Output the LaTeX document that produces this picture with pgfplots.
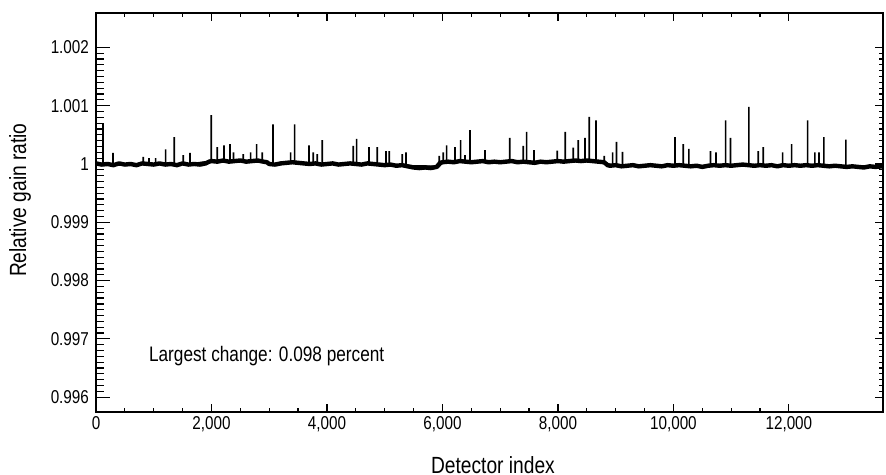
\documentclass[border=0pt]{standalone}
\usepackage{fontspec}
\setmainfont[FakeStretch=0.82]{Liberation Sans}
\usepackage{pgfplots}
\pgfplotsset{compat=1.18}

% Smooth part of the ratio curve (detector index, ratio)
\pgfplotstableread{
d ratio
0 1.00001
100 0.99999
200 1.00000
300 0.99998
400 1.00001
500 0.99999
600 1.00000
700 0.99998
800 1.00001
900 1.00000
1000 0.99999
1100 1.00001
1200 0.99999
1300 1.00000
1400 0.99998
1500 1.00001
1600 0.99999
1700 1.00000
1800 0.99999
1900 1.00001
1960 1.00004
2000 1.00005
2100 1.00004
2200 1.00006
2300 1.00004
2400 1.00005
2500 1.00006
2600 1.00004
2700 1.00005
2800 1.00006
2900 1.00004
2960 1.00003
3000 1.00000
3100 0.99999
3200 1.00001
3300 1.00002
3400 1.00003
3500 1.00002
3600 1.00001
3700 1.00000
3800 1.00001
3900 0.99999
4000 1.00000
4100 1.00001
4200 0.99999
4300 1.00000
4400 1.00001
4500 1.00000
4600 0.99999
4700 1.00001
4800 1.00000
4900 0.99999
5000 0.99998
5100 0.99999
5200 0.99997
5300 0.99998
5400 0.99996
5500 0.99994
5600 0.99993
5700 0.99994
5800 0.99993
5900 0.99995
5960 1.00002
6000 1.00003
6100 1.00004
6200 1.00003
6300 1.00005
6400 1.00004
6500 1.00003
6600 1.00004
6700 1.00005
6800 1.00003
6900 1.00004
7000 1.00003
7100 1.00004
7200 1.00005
7300 1.00003
7400 1.00004
7500 1.00003
7600 1.00002
7700 1.00004
7800 1.00003
7900 1.00004
8000 1.00005
8100 1.00004
8200 1.00005
8300 1.00006
8400 1.00005
8500 1.00006
8600 1.00005
8700 1.00004
8800 1.00003
8860 0.99998
8900 0.99997
9000 0.99998
9100 0.99996
9200 0.99997
9300 0.99998
9400 0.99996
9500 0.99997
9600 0.99998
9700 0.99997
9800 0.99996
9900 0.99998
10000 0.99997
10100 0.99998
10200 0.99997
10300 0.99996
10400 0.99997
10500 0.99995
10600 0.99997
10700 0.99998
10800 0.99997
10900 0.99998
11000 0.99997
11100 0.99998
11200 0.99999
11300 0.99998
11400 0.99997
11500 0.99998
11600 0.99997
11700 0.99998
11800 0.99996
11900 0.99998
12000 0.99997
12100 0.99998
12200 0.99997
12300 0.99998
12400 0.99997
12500 0.99998
12600 0.99997
12700 0.99996
12800 0.99997
12900 0.99996
13000 0.99995
13100 0.99996
13200 0.99995
13300 0.99994
13400 0.99996
13500 0.99995
13630 0.99996
}\baseline

% Isolated detectors with large ratios: index, local level, peak
\pgfplotstableread{
d ratio
121 1.00000
121 1.00069
121 1.00000
294 0.99998
294 1.00019
294 0.99998
820 1.00000
820 1.00012
820 1.00000
918 1.00000
918 1.00010
918 1.00000
1033 1.00000
1033 1.00010
1033 1.00000
1206 1.00000
1206 1.00025
1206 1.00000
1356 1.00000
1356 1.00046
1356 1.00000
1512 1.00000
1512 1.00015
1512 1.00000
1628 1.00000
1628 1.00019
1628 1.00000
1997 1.00005
1997 1.00084
1997 1.00005
2100 1.00005
2100 1.00029
2100 1.00005
2216 1.00005
2216 1.00032
2216 1.00005
2320 1.00005
2320 1.00034
2320 1.00005
2380 1.00005
2380 1.00020
2380 1.00005
2551 1.00005
2551 1.00017
2551 1.00005
2678 1.00005
2678 1.00020
2678 1.00005
2782 1.00005
2782 1.00034
2782 1.00005
2880 1.00005
2880 1.00020
2880 1.00005
3065 1.00000
3065 1.00068
3065 1.00000
3371 1.00002
3371 1.00020
3371 1.00002
3440 1.00002
3440 1.00068
3440 1.00002
3688 1.00000
3688 1.00032
3688 1.00000
3763 1.00000
3763 1.00020
3763 1.00000
3833 1.00000
3833 1.00017
3833 1.00000
3919 1.00000
3919 1.00041
3919 1.00000
4456 1.00000
4456 1.00031
4456 1.00000
4514 1.00000
4514 1.00043
4514 1.00000
4727 1.00000
4727 1.00029
4727 1.00000
4871 1.00000
4871 1.00029
4871 1.00000
5022 0.99998
5022 1.00022
5022 0.99998
5079 0.99998
5079 1.00022
5079 0.99998
5304 0.99998
5304 1.00017
5304 0.99998
5368 0.99997
5368 1.00020
5368 0.99997
5944 0.99996
5944 1.00014
5944 0.99996
6014 1.00003
6014 1.00020
6014 1.00003
6072 1.00003
6072 1.00032
6072 1.00003
6216 1.00003
6216 1.00029
6216 1.00003
6315 1.00004
6315 1.00041
6315 1.00004
6390 1.00004
6390 1.00015
6390 1.00004
6476 1.00004
6476 1.00058
6476 1.00004
6736 1.00004
6736 1.00024
6736 1.00004
7165 1.00004
7165 1.00045
7165 1.00004
7400 1.00004
7400 1.00031
7400 1.00004
7458 1.00004
7458 1.00055
7458 1.00004
7584 1.00004
7584 1.00024
7584 1.00004
7989 1.00004
7989 1.00023
7989 1.00004
8127 1.00004
8127 1.00055
8127 1.00004
8265 1.00005
8265 1.00028
8265 1.00005
8352 1.00005
8352 1.00041
8352 1.00005
8468 1.00005
8468 1.00045
8468 1.00005
8542 1.00005
8542 1.00081
8542 1.00005
8658 1.00005
8658 1.00075
8658 1.00005
8802 1.00003
8802 1.00014
8802 1.00003
8947 0.99997
8947 1.00020
8947 0.99997
9016 0.99997
9016 1.00038
9016 0.99997
9120 0.99997
9120 1.00021
9120 0.99997
10026 0.99997
10026 1.00046
10026 0.99997
10170 0.99997
10170 1.00034
10170 0.99997
10268 0.99997
10268 1.00026
10268 0.99997
10644 0.99997
10644 1.00022
10644 0.99997
10736 0.99997
10736 1.00020
10736 0.99997
10904 0.99997
10904 1.00075
10904 0.99997
10990 0.99997
10990 1.00045
10990 0.99997
11307 0.99998
11307 1.00098
11307 0.99998
11469 0.99998
11469 1.00022
11469 0.99998
11556 0.99998
11556 1.00029
11556 0.99998
11891 0.99997
11891 1.00020
11891 0.99997
12047 0.99997
12047 1.00034
12047 0.99997
12324 0.99998
12324 1.00075
12324 0.99998
12450 0.99997
12450 1.00020
12450 0.99997
12520 0.99997
12520 1.00020
12520 0.99997
12606 0.99997
12606 1.00046
12606 0.99997
12987 0.99996
12987 1.00042
12987 0.99996
}\spikes

\begin{document}
\begin{tikzpicture}
\useasboundingbox (-48pt,-31.5pt) rectangle (395pt,206pt);
\pgfplotsset{
  frame/.style={
    scale only axis, width=393.5pt, height=199.5pt,
    at={(0,0)}, anchor=south west,
    xmin=0, xmax=13630, ymin=0.995746, ymax=1.00259,
    ytick={0.996,0.997,0.998,0.999,1,1.001,1.002},
    minor y tick num=9,
    tick style={black, line width=0.6pt},
  },
}
% main frame: data, x ticks on both sides, short ticks on the right
\begin{axis}[frame,
  axis line style={line width=0.9pt},
  scaled x ticks=false,
  xtick={0,2000,4000,6000,8000,10000,12000},
  xticklabels={0,{2,000},{4,000},{6,000},{8,000},{10,000},{12,000}},
  minor x tick num=3,
  xticklabel style={font=\fontsize{9.3}{11}\selectfont, yshift=1.5pt},
  ytick pos=right, yticklabels={},
  major tick length=4pt, minor tick length=2pt,
  xlabel={Detector index},
  xlabel style={font=\fontsize{11.7}{14}\selectfont, inner sep=0pt, at={(axis description cs:0.5044,-0.1529)}, anchor=base},
  ylabel={Relative gain ratio},
  ylabel style={font=\fontsize{11.7}{14}\selectfont, at={(axis description cs:-0.0966,0.531)}, anchor=center},
]
\addplot[black, line width=2.2pt, line join=round] table[x=d, y=ratio] {\baseline};
\addplot[black, line width=0.85pt] table[x=d, y=ratio] {\spikes};
\node[anchor=base west, font=\fontsize{10.5}{12}\selectfont] at (axis cs:797,0.99661) {Largest change: 0.098 percent};
\end{axis}
% left y axis with long ruler-like ticks and labels
\begin{axis}[frame,
  axis line style={draw=none},
  xtick=\empty,
  ytick pos=left,
  yticklabels={0.996,0.997,0.998,0.999,1,1.001,1.002},
  yticklabel style={font=\fontsize{9.3}{11}\selectfont},
  major tick length=7pt, minor tick length=4pt,
]
\end{axis}
\end{tikzpicture}
\end{document}
